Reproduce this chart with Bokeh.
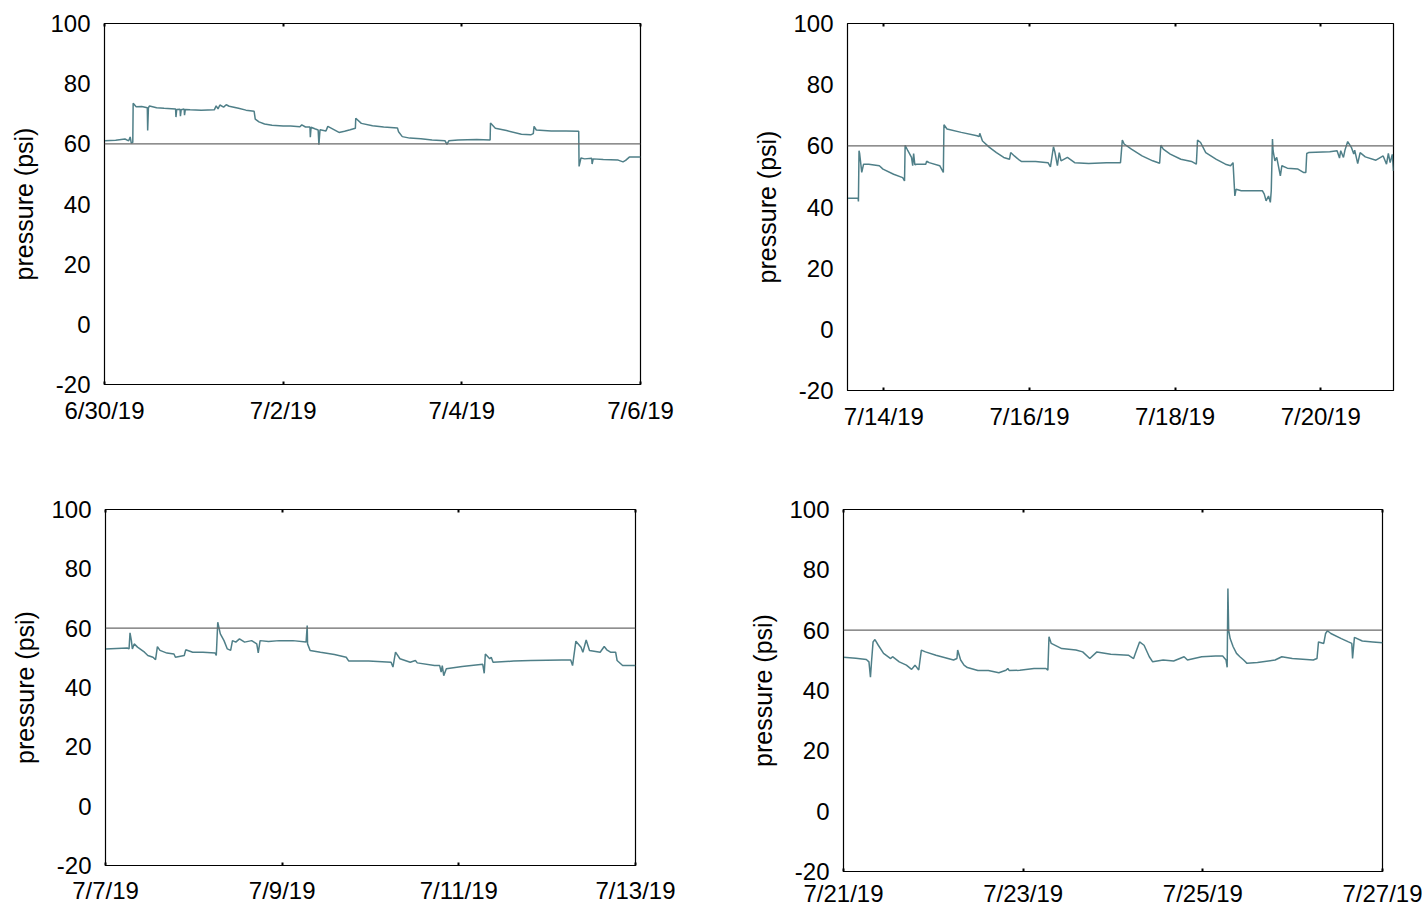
import pandas as pd
from bokeh.plotting import figure
from bokeh.models import Range1d, FixedTicker, DatetimeAxis, Span
from bokeh.layouts import column, row
from bokeh.embed import file_html
from bokeh.resources import INLINE

# ---------------- data ----------------
y_ticks = [-20, 0, 20, 40, 60, 80, 100]
y_tick_labels = ["-20", "0", "20", "40", "60", "80", "100"]
threshold_psi = 60
y_label = "pressure (psi)"

# Panel 1 (top left)
p1_start, p1_end = "2019-06-30 00:00", "2019-07-06 00:00"
p1_ticks = ["2019-06-30", "2019-07-02", "2019-07-04", "2019-07-06"]
p1_tick_labels = ["6/30/19", "7/2/19", "7/4/19", "7/6/19"]
p1_hours = [0, 3, 5.5, 6.5, 6.9, 7.2, 7.6, 7.7, 8.5, 10, 11.5, 11.6, 11.8, 12.1, 14, 16, 18, 19.1, 19.2, 19.4,
            20.3, 20.4, 20.6, 21.4, 21.5, 21.7, 23, 26, 29.5, 30, 30.5, 31, 32, 32.7, 33.5, 36, 38, 40.2, 40.5, 41.5,
            43, 45, 48, 50, 52.5, 53, 54, 55.2, 55.3, 55.5, 56.5, 57.4, 57.6, 57.9, 59.5, 60, 61.5, 63, 64.5, 66,
            67.4, 67.5, 69, 72, 75, 78.7, 79, 80, 82, 85, 88, 91.5, 92, 92.5, 95, 100, 103.6, 103.7, 105, 108,
            112, 114.5, 115.2, 115.4, 116, 120, 124, 127.4, 127.5, 128, 129, 130.9, 131, 131.3, 134, 138, 139.3, 140, 141, 144]
p1_psi = [61.0, 61.2, 61.6, 61.0, 62.3, 60.2, 60.5, 73.5, 72.3, 72.4, 72.0, 64.4, 72.0, 72.6, 72.0, 71.8, 71.7, 71.6, 68.9, 71.4,
          71.5, 69.2, 71.3, 71.6, 69.5, 71.4, 71.3, 71.2, 71.3, 72.6, 71.6, 72.9, 72.2, 73.0, 72.5, 71.8, 71.2, 70.8, 68.2, 67.3,
          66.6, 66.2, 65.9, 65.9, 65.7, 66.3, 65.6, 65.6, 62.2, 65.5, 65.0, 64.6, 59.7, 64.7, 64.3, 65.8, 64.8, 63.8, 64.2, 64.7,
          65.2, 68.5, 66.8, 66.0, 65.6, 65.3, 64.0, 62.4, 61.9, 61.7, 61.3, 61.0, 59.8, 61.0, 61.3, 61.4, 61.3, 66.9, 65.2, 64.4,
          63.2, 63.0, 63.4, 65.8, 64.6, 64.3, 64.3, 64.2, 52.5, 55.3, 55.0, 55.2, 53.3, 55.0, 54.8, 54.6, 54.0, 54.5, 55.6, 55.6]

# Panel 2 (top right)
p2_start, p2_end = "2019-07-13 12:00", "2019-07-21 00:00"
p2_ticks = ["2019-07-14", "2019-07-16", "2019-07-18", "2019-07-20"]
p2_tick_labels = ["7/14/19", "7/16/19", "7/18/19", "7/20/19"]
p2_hours = [0, 3.5, 3.6, 3.8, 4.0, 4.7, 5.3, 7.0, 10.5, 11.7,
            15.2, 18.2, 18.8, 19.0, 19.9, 21.1, 21.5, 21.8, 22.2, 22.8,
            25.8, 26.1, 26.9, 30.4, 31.6, 31.8, 32.8, 37.5, 42.7, 43.4,
            43.6, 44.5, 46.8, 49.1, 51.5, 53.4, 53.8, 55.0, 56.7, 57.3,
            62.0, 66.1, 66.9, 67.9, 68.4, 69.2, 69.8, 70.4, 72.5, 74.9,
            79.5, 85.4, 90.0, 90.6, 91.2, 93.6, 97.1, 100.6, 102.9, 103.3,
            104.1, 106.4, 109.9, 113.4, 115.0, 115.4, 116.4, 118.1, 121.6, 124.6,
            126.3, 127.1, 127.7, 128.1, 129.8, 136.8, 137.4, 138.0, 138.8, 139.4,
            139.7, 140.1, 140.3, 140.9, 141.5, 142.7, 143.2, 145.0, 148.5, 150.3,
            151.1, 151.4, 152.0, 159.0, 161.4, 162.2, 162.6, 163.5, 164.0, 164.9,
            166.1, 166.9, 167.2, 168.2, 169.0, 170.7, 174.2, 176.6, 177.7, 178.3,
            178.9, 179.6, 180.0]
p2_psi = [42.9, 42.9, 41.8, 58.4, 57.5, 51.3, 54.0, 54.0, 53.5, 52.4,
          50.7, 49.6, 48.5, 60.2, 58.4, 56.2, 53.5, 57.5, 53.8, 54.0,
          54.0, 55.0, 54.5, 53.5, 51.3, 66.9, 65.5, 64.4, 63.3, 63.0,
          64.1, 61.6, 59.5, 57.8, 56.2, 55.6, 57.8, 56.7, 55.3, 54.9,
          54.9, 54.5, 53.1, 59.7, 57.8, 53.5, 57.8, 55.1, 56.2, 54.5,
          54.2, 54.5, 54.5, 61.9, 60.6, 58.9, 56.7, 55.1, 54.3, 60.2,
          58.9, 57.3, 55.6, 54.9, 54.0, 61.9, 61.1, 57.8, 55.6, 54.0,
          53.5, 54.5, 43.6, 45.8, 45.3, 45.3, 44.2, 42.0, 43.6, 41.5,
          45.3, 62.2, 58.4, 55.1, 56.2, 50.2, 53.5, 52.7, 52.4, 51.3,
          51.3, 57.5, 57.8, 58.1, 58.4, 56.0, 58.4, 56.2, 58.6, 61.4,
          59.5, 57.3, 58.6, 54.2, 57.8, 56.4, 55.3, 56.7, 54.0, 57.5,
          54.5, 57.2, 51.8]

# Panel 3 (bottom left)
p3_start, p3_end = "2019-07-07 00:00", "2019-07-13 00:00"
p3_ticks = ["2019-07-07", "2019-07-09", "2019-07-11", "2019-07-13"]
p3_tick_labels = ["7/7/19", "7/9/19", "7/11/19", "7/13/19"]
p3_hours = [0, 5.9, 6.4, 6.66, 7.03, 7.3, 7.8, 8.7, 10.6, 11.5,
            12.9, 13.6, 14.1, 14.8, 16.7, 18.6, 19.0, 21.4, 21.8, 23.7,
            26.5, 29.8, 30.1, 30.5, 31.2, 32.2, 33.1, 34.0, 34.5, 35.4,
            36.4, 37.8, 39.7, 41.1, 41.5, 42.0, 44.3, 47.2, 50.9, 54.5,
            54.8, 54.9, 55.6, 58.4, 62.2, 65.4, 66.1, 71.5, 77.6, 78.1,
            78.8, 80.0, 82.8, 84.2, 84.7, 89.4, 90.8, 91.2, 91.5, 91.9,
            92.6, 96.9, 102.5, 102.9, 103.2, 104.4, 104.8, 105.3, 110.9, 115.6,
            124.0, 126.4, 126.9, 127.8, 129.2, 129.7, 130.6, 131.5, 134.4, 135.5,
            136.2, 137.2, 138.6, 139.0, 140.5, 144]
p3_psi = [53.0, 53.3, 53.0, 58.4, 55.8, 53.0, 54.7, 53.6, 51.9, 50.8,
          50.2, 49.4, 53.8, 52.5, 51.6, 51.3, 50.2, 50.8, 52.7, 51.9,
          51.9, 51.6, 50.8, 62.0, 58.1, 55.8, 53.0, 52.5, 55.8, 55.3,
          56.4, 55.3, 55.8, 54.7, 51.7, 55.8, 55.5, 55.8, 55.8, 55.3,
          60.9, 54.7, 52.5, 51.9, 51.1, 50.2, 48.9, 48.9, 48.5, 46.9,
          51.9, 49.7, 48.5, 49.1, 48.3, 47.4, 47.4, 45.2, 47.4, 44.0,
          46.3, 47.1, 47.8, 44.8, 51.3, 49.7, 50.2, 48.5, 48.9, 49.1,
          49.3, 49.3, 47.4, 55.6, 53.6, 51.9, 56.0, 52.5, 51.9, 53.8,
          52.7, 51.9, 51.9, 49.1, 47.4, 47.4]

# Panel 4 (bottom right)
p4_start, p4_end = "2019-07-21 00:00", "2019-07-27 00:00"
p4_ticks = ["2019-07-21", "2019-07-23", "2019-07-25", "2019-07-27"]
p4_tick_labels = ["7/21/19", "7/23/19", "7/25/19", "7/27/19"]
p4_hours = [0, 3.3, 6.1, 6.8, 7.2, 7.5, 7.9, 8.4, 9.3, 10.7,
            12.6, 13.1, 14.9, 16.8, 18.2, 19.1, 20.1, 20.8, 21.9, 24.7,
            29.4, 30.3, 30.5, 31.3, 32.2, 33.1, 35.9, 38.7, 41.5, 43.4,
            43.9, 44.3, 47.1, 50.9, 54.1, 54.6, 54.9, 55.5, 58.3, 62.1,
            63.9, 65.8, 67.7, 71.4, 76.1, 77.5, 77.9, 79.1, 80.3, 81.7,
            82.6, 85.4, 88.2, 91.0, 91.9, 95.7, 99.4, 101.3, 102.2, 102.5,
            102.7, 102.9, 103.3, 104.1, 105.0, 105.9, 106.9, 107.8, 110.6, 115.3,
            117.1, 119.9, 125.5, 126.5, 126.9, 128.3, 128.8, 129.3, 130.2, 133.0,
            134.9, 135.8, 136.0, 136.5, 138.6, 141.4, 144.0]
p4_psi = [51.0, 50.7, 50.3, 49.5, 44.4, 49.8, 56.1, 56.9, 55.0, 52.3,
          50.6, 51.2, 49.5, 48.4, 47.0, 48.4, 46.8, 53.4, 52.8, 51.7,
          50.1, 50.6, 53.4, 50.1, 48.4, 47.6, 46.6, 46.6, 45.9, 46.7,
          47.3, 46.6, 46.7, 47.3, 47.3, 46.7, 57.8, 55.6, 53.9, 53.4,
          52.8, 50.6, 52.8, 52.0, 51.7, 50.6, 52.0, 56.1, 55.0, 51.2,
          49.5, 50.1, 49.8, 51.2, 50.1, 51.2, 51.4, 51.4, 50.1, 47.7,
          73.8, 60.0, 57.2, 54.5, 52.3, 51.2, 50.1, 49.0, 49.3, 50.1,
          51.2, 50.6, 50.1, 50.6, 56.1, 55.6, 58.9, 59.8, 58.9, 57.2,
          56.1, 55.6, 50.6, 57.6, 56.4, 56.1, 55.8]

# ---------------- styling ----------------
FONT = "Liberation Sans"
LINE_COLOR = "#4f7f88"


def ms(t):
    return pd.Timestamp(t).timestamp() * 1000.0


def make_panel(start, end, ticks, tick_labels, hours, psi, width, height, borders, x_standoff):
    assert len(hours) == len(psi)
    x = [pd.Timestamp(start) + pd.Timedelta(hours=h) for h in hours]
    left, right, top, bottom = borders
    p = figure(width=width, height=height, x_axis_type="datetime",
               output_backend="svg", toolbar_location=None,
               x_range=Range1d(ms(start), ms(end)), y_range=Range1d(-20, 100),
               min_border_left=left, min_border_right=right,
               min_border_top=top, min_border_bottom=bottom)
    p.background_fill_color = "white"
    p.border_fill_color = "white"
    p.outline_line_color = "black"
    p.outline_line_width = 1.2
    p.xgrid.visible = False
    p.ygrid.visible = False

    tick_ms = [ms(t) for t in ticks]

    xa = p.xaxis[0]
    xa.ticker = FixedTicker(ticks=tick_ms)
    xa.major_label_overrides = dict(zip(tick_ms, tick_labels))
    xa.major_label_text_font = FONT
    xa.major_label_text_font_size = "24px"
    xa.major_label_text_line_height = 1.0
    xa.major_label_text_color = "black"
    xa.major_label_standoff = x_standoff
    xa.major_tick_in = 3
    xa.major_tick_out = 0
    xa.major_tick_line_width = 2
    xa.major_tick_line_color = "black"
    xa.minor_tick_line_color = None
    xa.axis_line_color = "black"

    ya = p.yaxis[0]
    ya.ticker = FixedTicker(ticks=y_ticks)
    ya.major_label_overrides = dict(zip(y_ticks, y_tick_labels))
    ya.axis_label = y_label
    ya.axis_label_text_font = FONT
    ya.axis_label_text_font_size = "25px"
    ya.axis_label_text_font_style = "normal"
    ya.axis_label_text_color = "black"
    ya.axis_label_standoff = 9
    ya.major_label_text_font = FONT
    ya.major_label_text_font_size = "24px"
    ya.major_label_text_color = "black"
    ya.major_label_standoff = 8
    ya.major_tick_line_color = None
    ya.minor_tick_line_color = None
    ya.axis_line_color = "black"

    top_axis = DatetimeAxis(ticker=FixedTicker(ticks=tick_ms),
                            major_label_overrides={t: "" for t in tick_ms},
                            major_label_text_font_size="0px", major_label_standoff=0,
                            axis_line_color=None, major_tick_in=3, major_tick_out=0,
                            major_tick_line_width=2, major_tick_line_color="black",
                            minor_tick_line_color=None)
    p.add_layout(top_axis, "above")

    p.line(x, psi, line_color=LINE_COLOR, line_width=1.5)
    p.add_layout(Span(location=threshold_psi, dimension="width",
                      line_color="#6a6a6a", line_width=1.3))
    return p


p1 = make_panel(p1_start, p1_end, p1_ticks, p1_tick_labels, p1_hours, p1_psi,
                width=678, height=470, borders=(104, 38, 23, 86), x_standoff=12)
p2 = make_panel(p2_start, p2_end, p2_ticks, p2_tick_labels, p2_hours, p2_psi,
                width=740, height=470, borders=(169, 25, 23, 80), x_standoff=12)
p3 = make_panel(p3_start, p3_end, p3_ticks, p3_tick_labels, p3_hours, p3_psi,
                width=675, height=439, borders=(105, 40, 39, 44), x_standoff=11)
p4 = make_panel(p4_start, p4_end, p4_ticks, p4_tick_labels, p4_hours, p4_psi,
                width=747, height=439, borders=(168, 40, 39, 37), x_standoff=8)

layout = column(row(column(p1), column(p2)), row(column(p3), column(p4)))
open("out.html", "w").write(file_html(layout, INLINE))
